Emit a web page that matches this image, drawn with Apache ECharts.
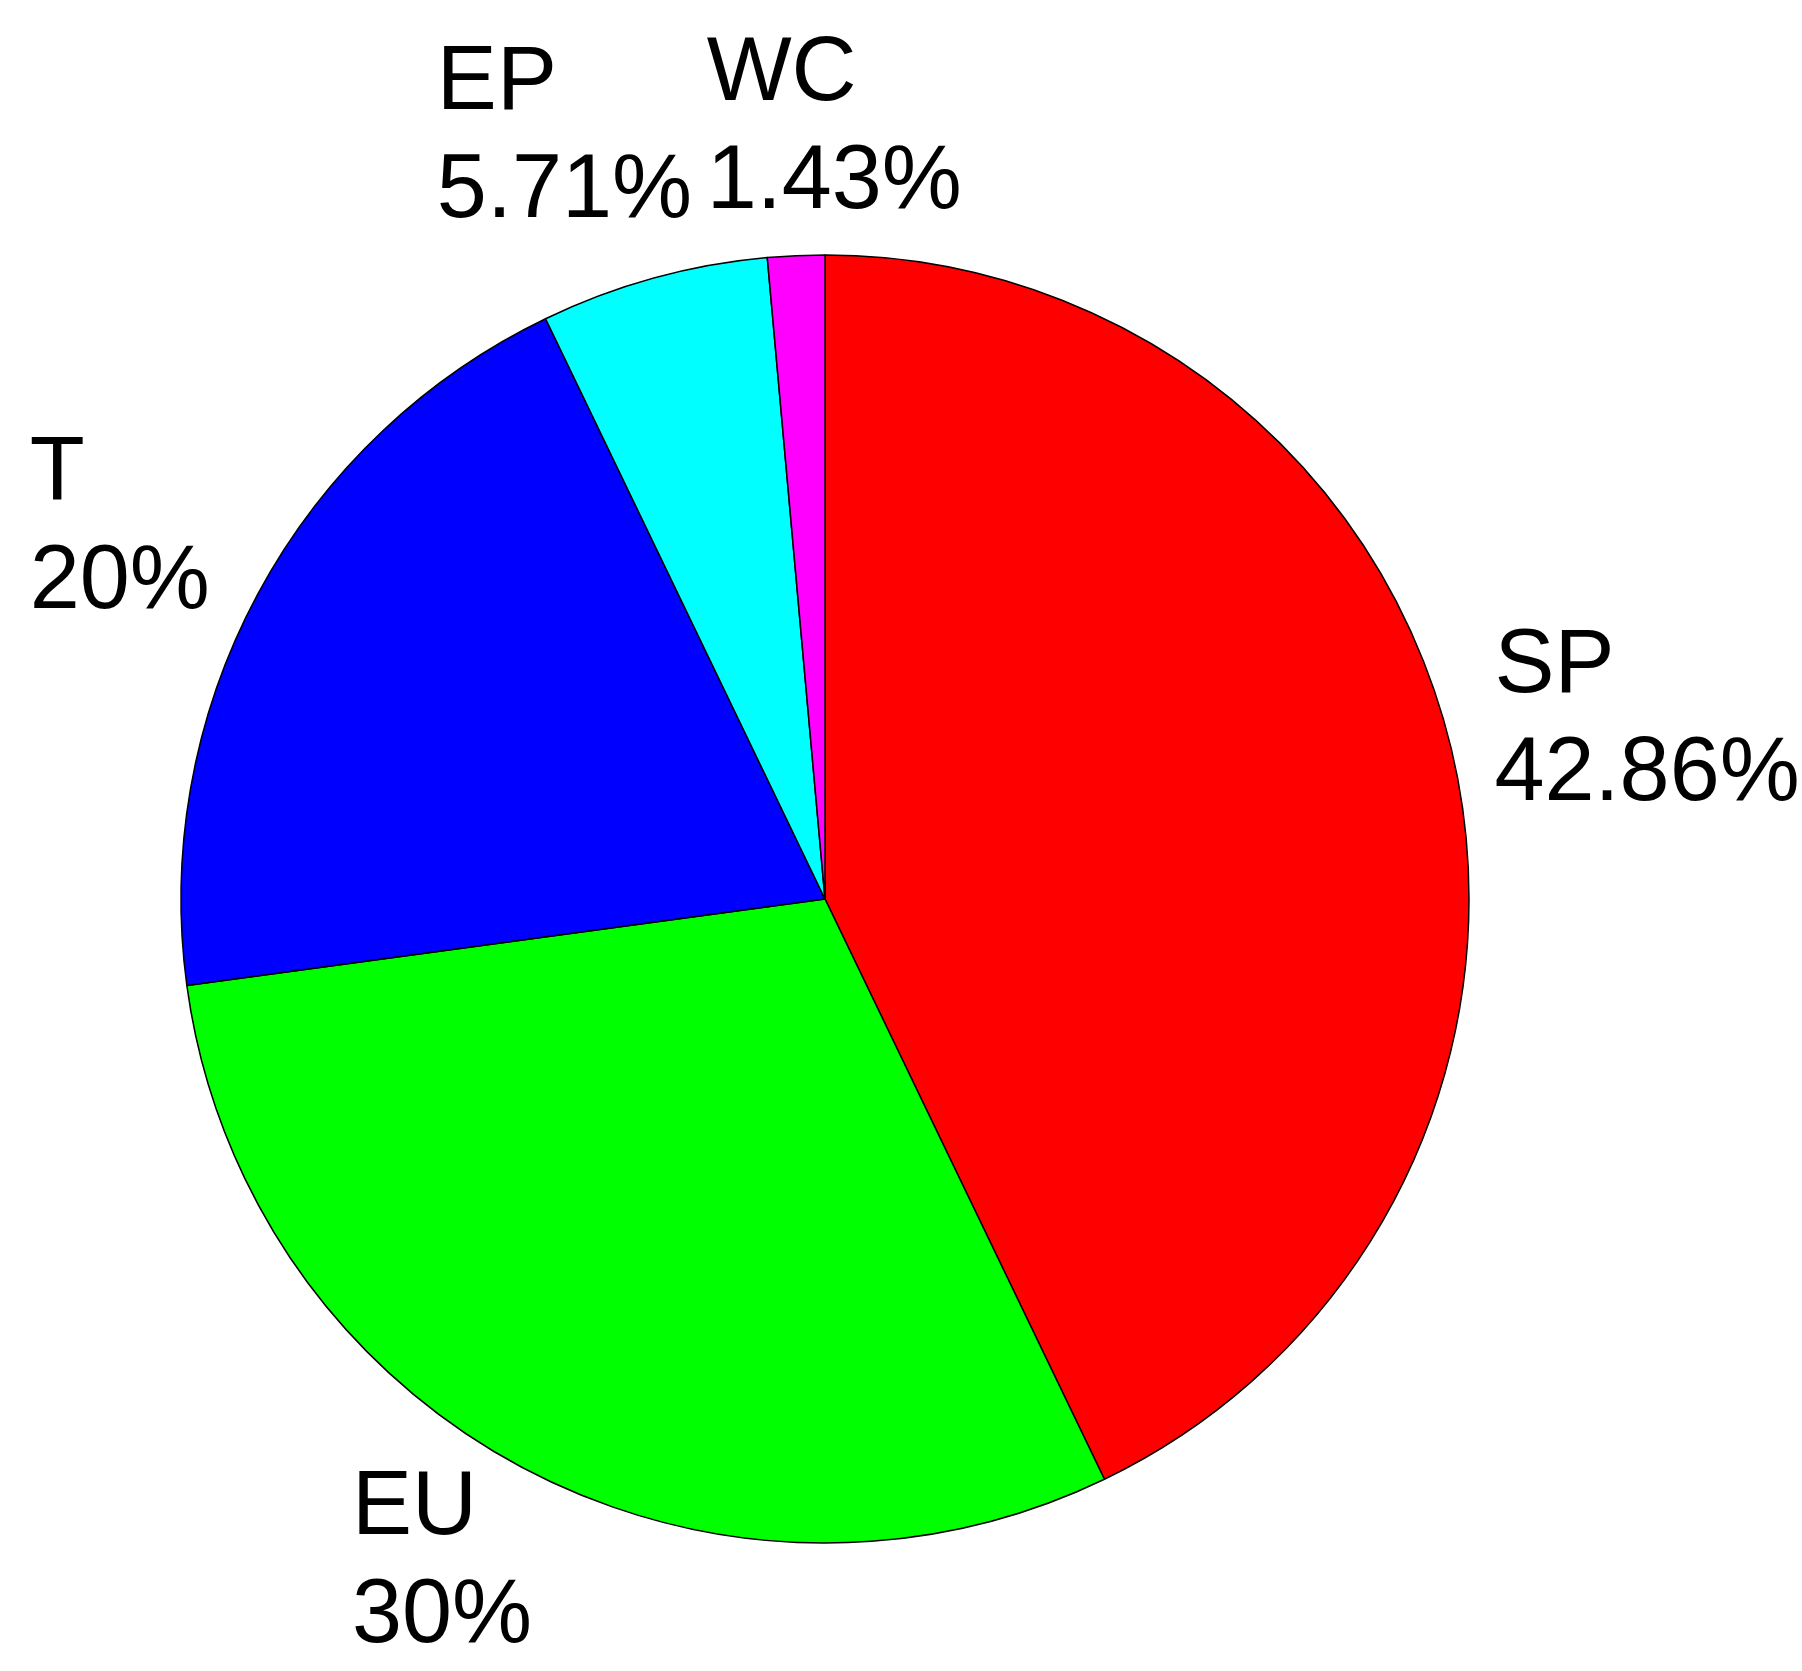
<!DOCTYPE html>
<html>
<head>
<meta charset="utf-8">
<script src="https://cdn.jsdelivr.net/npm/echarts@6/dist/echarts.min.js"></script>
<style>
html, body { margin: 0; background: #fff; }
#main { width: 1802px; height: 1671px; }
</style>
</head>
<body>
<div id="main"></div>
<script>
// slices, clockwise from 12 o'clock (counts out of 70)
var names = ['SP', 'EU', 'T', 'EP', 'WC'];
var counts = [30, 21, 14, 4, 1];
var colors = ['#ff0000', '#00ff00', '#0000ff', '#00ffff', '#ff00ff'];

var W = 1802, H = 1671;
var cx = 825, cy = 899, R = 644;
var family = '"Liberation Sans", Arial, sans-serif';
var fontSize = 90, lineH = 108;

var total = counts.reduce(function (a, b) { return a + b; }, 0);
function pct(v) { return +(v / total * 100).toFixed(2) + '%'; }

// size of each two-line label
var ctx = document.createElement('canvas').getContext('2d');
ctx.font = fontSize + 'px ' + family;
var boxes = names.map(function (n, i) {
    var w = Math.max(ctx.measureText(n).width, ctx.measureText(pct(counts[i])).width);
    return { w: w, h: 2 * lineH };
});

// mid angle of each slice in degrees, clockwise from top
var acc = 0;
var mids = counts.map(function (c) {
    var m = (acc + c / 2) / total * 360;
    acc += c;
    return m;
});

// label box just outside the rim, pushed out along the mid angle
function place(i, deg) {
    var a = deg * Math.PI / 180, dx = Math.sin(a), dy = -Math.cos(a);
    var b = boxes[i];
    var d = R * 1.041 + Math.abs(dx) * b.w / 2 + Math.abs(dy) * b.h / 2;
    var x = cx + dx * d, y = cy + dy * d + 10;
    x = Math.min(Math.max(x, b.w / 2), W - b.w / 2);
    y = Math.min(Math.max(y, b.h / 2), H - b.h / 2);
    return { x: x, y: y };
}
function overlap(p, q, i, j) {
    var pad = 14;
    return Math.abs(p.x - q.x) < (boxes[i].w + boxes[j].w) / 2 + pad &&
        Math.abs(p.y - q.y) < (boxes[i].h + boxes[j].h) / 2;
}
// spread neighbouring labels apart round the circle
var ang = mids.slice();
for (var k = 0; k < 400; k++) {
    var moved = false;
    for (var i = 0; i < ang.length; i++) {
        var j = (i + 1) % ang.length;
        if (overlap(place(i, ang[i]), place(j, ang[j]), i, j)) {
            ang[i] -= 0.25;
            ang[j] += 0.25;
            moved = true;
        }
    }
    if (!moved) break;
}
var spots = ang.map(function (a, i) { return place(i, a); });

var chart = echarts.init(document.getElementById('main'));
chart.setOption({
    backgroundColor: '#fff',
    animation: false,
    series: [{
        type: 'pie',
        center: [cx, cy],
        radius: R,
        startAngle: 90,
        clockwise: true,
        avoidLabelOverlap: false,
        data: names.map(function (n, i) {
            return { name: n, value: counts[i], itemStyle: { color: colors[i] } };
        }),
        itemStyle: { borderColor: '#000', borderWidth: 1.5 },
        label: {
            show: true,
            position: 'outside',
            formatter: function (p) {
                return '{a|' + p.name + '}\n{a|' + pct(p.value) + '}';
            },
            rich: {
                a: { fontSize: fontSize, lineHeight: lineH, fontFamily: family, color: '#000', align: 'left' }
            }
        },
        labelLine: { show: false },
        labelLayout: function (p) {
            var s = spots[p.dataIndex];
            return { x: s.x, y: s.y, align: 'center', verticalAlign: 'middle' };
        },
        emphasis: { disabled: true }
    }]
});
</script>
</body>
</html>
